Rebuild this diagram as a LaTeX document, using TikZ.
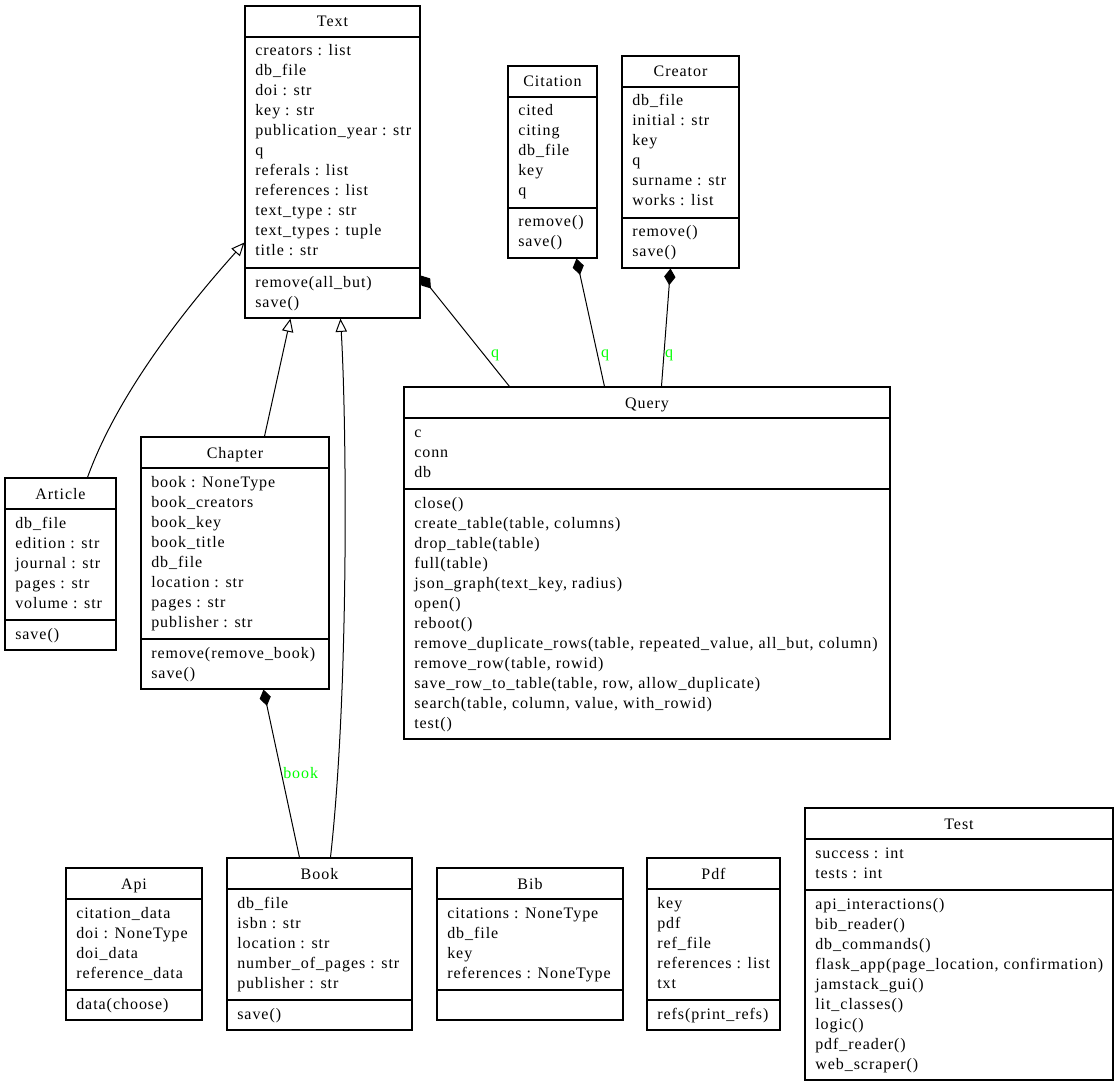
\documentclass[tikz,border=0pt]{standalone}
\usepackage{fontspec}
\setmainfont{Liberation Serif}[LetterSpace=6]
\usetikzlibrary{fit,arrows.meta}
\definecolor{labelgreen}{RGB}{0,255,0}
\tikzset{
  px/.style={x=0.75pt,y=-0.75pt},
  classbox/.style={draw, line width=0.8pt, inner sep=0pt},
  sepline/.style={line width=0.8pt},
  umltext/.style={inner sep=0pt, font=\fontsize{12pt}{14pt}\selectfont},
  titletext/.style={umltext, anchor=base},
  linetext/.style={umltext, anchor=base west},
  edgelabel/.style={umltext, text=labelgreen, anchor=base},
  inherit/.style={line width=0.75pt, -{Triangle[open, length=10pt, width=8.5pt]}},
  compose/.style={line width=0.75pt, -{Diamond[length=12.5pt, width=8.5pt]}},
}
% #1 name, #2 left, #3 right, #4 top, #5 nattr, #6 nmeth, #7 attrs, #8 methods
\newcommand{\umlclass}[8]{%
  \pgfmathsetmacro{\umlSepA}{#4+31}%
  \pgfmathsetmacro{\umlSepB}{#4+42+20*#5}%
  \pgfmathsetmacro{\umlBot}{\umlSepB+20*max(#6,1)+10}%
  \coordinate (#1-nw) at (#2,#4);
  \coordinate (#1-se) at (#3,\umlBot);
  \node[classbox, fit=(#1-nw)(#1-se)] (#1) {};
  \node[titletext] (#1-title) at ({(#2+#3)/2},#4+21) {#1};
  \draw[sepline] (#2,\umlSepA) -- (#3,\umlSepA);
  \draw[sepline] (#2,\umlSepB) -- (#3,\umlSepB);
  \foreach \lbl [count=\i from 0] in {#7} {
    \node[linetext] (#1-a\i) at (#2+10,\umlSepA+19+20*\i) {\lbl};
  }
  \ifnum#6>0
  \foreach \lbl [count=\i from 0] in {#8} {
    \node[linetext] (#1-m\i) at (#2+10,\umlSepB+19+20*\i) {\lbl};
  }
  \fi
}
\begin{document}
\begin{tikzpicture}[px]
\useasboundingbox (0,0) rectangle (1119,1087);

\umlclass{Text}{245}{420}{6}{11}{2}{creators : list, db\_file, doi : str, key : str, publication\_year : str, q, referals : list, references : list, text\_type : str, text\_types : tuple, title : str}{remove(all\_but), save()}

\umlclass{Citation}{508}{597}{66}{5}{2}{cited, citing, db\_file, key, q}{remove(), save()}

\umlclass{Creator}{622}{739}{56}{6}{2}{db\_file, initial : str, key, q, surname : str, works : list}{remove(), save()}

\umlclass{Query}{404}{890}{387}{3}{12}{c, conn, db}{close(), {create\_table(table, columns)}, drop\_table(table), full(table), {json\_graph(text\_key, radius)}, open(), reboot(), {remove\_duplicate\_rows(table, repeated\_value, all\_but, column)}, {remove\_row(table, rowid)}, {save\_row\_to\_table(table, row, allow\_duplicate)}, {search(table, column, value, with\_rowid)}, test()}

\umlclass{Article}{5}{116}{478}{5}{1}{db\_file, edition : str, journal : str, pages : str, volume : str}{save()}

\umlclass{Chapter}{141}{329}{437}{8}{2}{book : NoneType, book\_creators, book\_key, book\_title, db\_file, location : str, pages : str, publisher : str}{remove(remove\_book), save()}

\umlclass{Api}{66}{202}{868}{4}{1}{citation\_data, doi : NoneType, doi\_data, reference\_data}{data(choose)}

\umlclass{Book}{227}{412}{858}{5}{1}{db\_file, isbn : str, location : str, number\_of\_pages : str, publisher : str}{save()}

\umlclass{Bib}{437}{623}{868}{4}{0}{citations : NoneType, db\_file, key, references : NoneType}{}

\umlclass{Pdf}{647}{780}{858}{5}{1}{key, pdf, ref\_file, references : list, txt}{refs(print\_refs)}

\umlclass{Test}{805}{1113}{808}{2}{9}{success : int, tests : int}{api\_interactions(), bib\_reader(), db\_commands(), {flask\_app(page\_location, confirmation)}, jamstack\_gui(), lit\_classes(), logic(), pdf\_reader(), web\_scraper()}

% inheritance
\draw[inherit] ([shift={(83,0)}]Article.north west) .. controls +(30,-83) and +(-60,67) .. ([shift={(0,237)}]Text.north west);
\draw[inherit] ([shift={(124,0)}]Chapter.north west) -- ([shift={(46,0)}]Text.south west);
\draw[inherit] ([shift={(104,0)}]Book.north west) .. controls +(19,-170) and +(6,100) .. ([shift={(96,0)}]Text.south west);

% composition
\draw[compose] ([shift={(106,0)}]Query.north west) -- ([shift={(0,270)}]Text.north east);
\draw[compose] ([shift={(201,0)}]Query.north west) -- ([shift={(69,0)}]Citation.south west);
\draw[compose] ([shift={(258,0)}]Query.north west) -- ([shift={(49,0)}]Creator.south west);
\draw[compose] ([shift={(73,0)}]Book.north west) -- ([shift={(123,0)}]Chapter.south west);

\node[edgelabel] (lq1) at (495,357) {q};
\node[edgelabel] (lq2) at (605,357) {q};
\node[edgelabel] (lq3) at (669,357) {q};
\node[edgelabel, anchor=base west] (lbook) at (283,778) {book};
\end{tikzpicture}
\end{document}
